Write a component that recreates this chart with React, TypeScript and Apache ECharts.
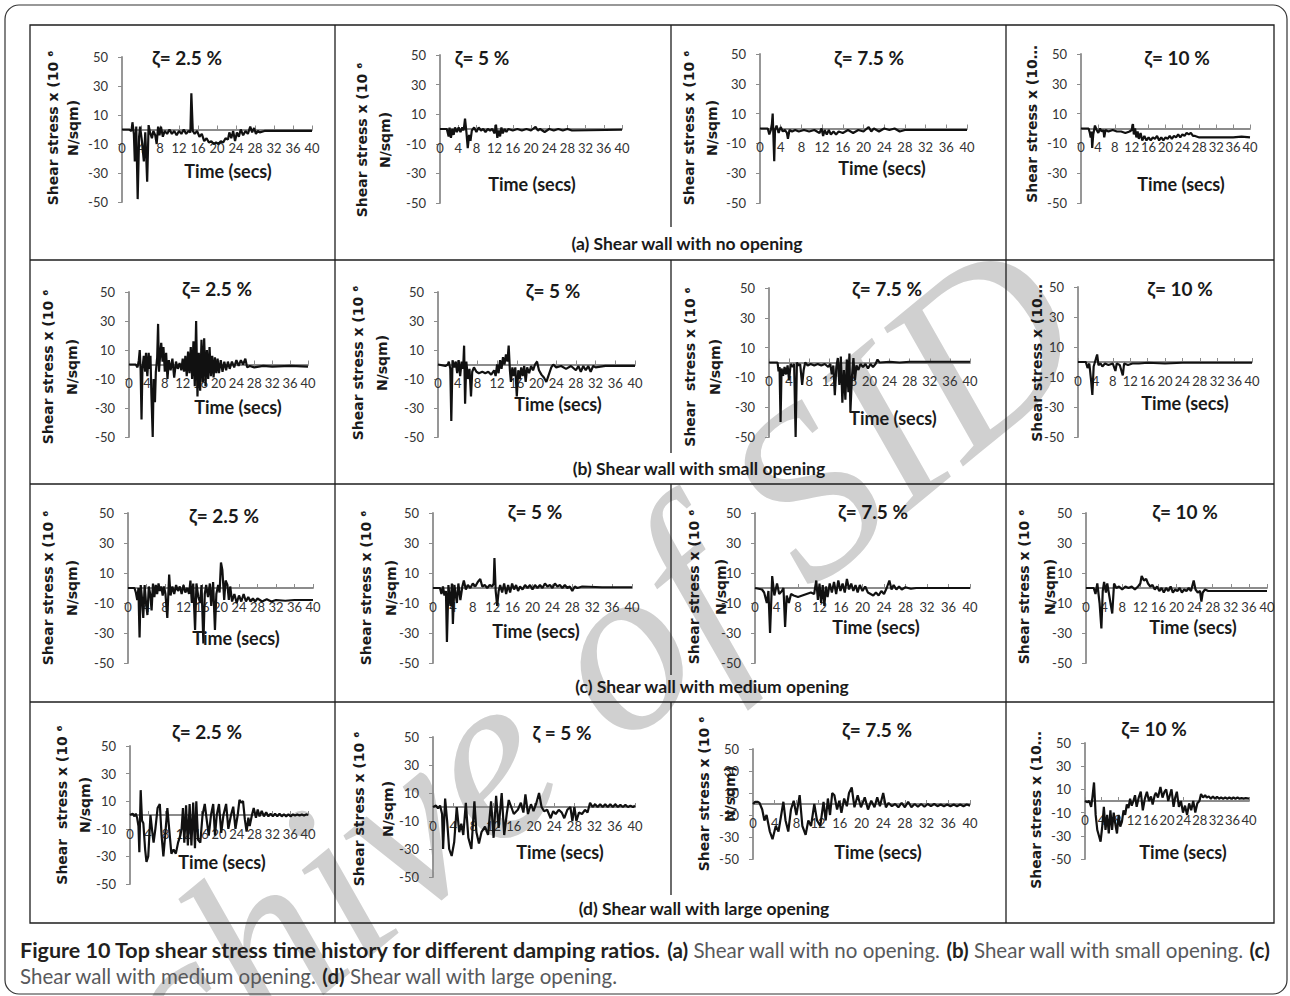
import React, { useEffect, useRef } from "react";
import * as echarts from "echarts";

type Pt = [number, number];

// axis ranges / ticks
const TIME_MIN = 0;
const TIME_MAX = 40;
const TIME_STEP = 4;
const STRESS_MIN = -50;
const STRESS_MAX = 50;
const STRESS_STEP = 20;

const rowCaptions = [
  "(a) Shear wall with no opening",
  "(b) Shear wall with small opening",
  "(c) Shear wall with medium opening",
  "(d) Shear wall with large opening",
];

const panelTitles = [
  "ζ= 2.5 %", "ζ= 5 %", "ζ= 7.5 %", "ζ= 10 %",
  "ζ= 2.5 %", "ζ= 5 %", "ζ= 7.5 %", "ζ= 10 %",
  "ζ= 2.5 %", "ζ= 5 %", "ζ= 7.5 %", "ζ= 10 %",
  "ζ= 2.5 %", "ζ = 5 %", "ζ= 7.5 %", "ζ= 10 %",
];

const Y_FULL = ["Shear stress x (10 ⁶", "N/sqm)"];
const Y_FULL2 = ["Shear  stress x (10 ⁶", "N/sqm)"];
const Y_CUT = ["Shear stress x (10…"];
const yNames = [
  Y_FULL, Y_FULL, Y_FULL, Y_CUT,
  Y_FULL, Y_FULL, Y_FULL2, Y_CUT,
  Y_FULL, Y_FULL, Y_FULL, Y_FULL,
  Y_FULL2, Y_FULL, Y_FULL, Y_CUT,
];
const X_NAME = "Time (secs)";

// ---- series: [time (s), shear stress] ----
const noOpen25: Pt[] = [[0,0],[1.5,0],[2,-1],[2.2,5],[2.5,-3],[2.7,-22],[3.0,2],[3.3,-48],[3.6,-5],[3.8,2],[4.2,-8],[4.6,-22],[4.9,-2],[5.3,-36],[5.6,3],[5.9,-2],[6.3,-6],[6.6,-1],[7.0,-4],[7.3,-10],[7.6,2],[7.9,-4],[8.2,2],[8.6,-5],[9.0,-1],[9.5,-3],[10,0],[10.5,-3],[11,-1],[11.5,-4],[12,-1],[12.5,-3],[13,0],[13.5,-3],[14,-1],[14.4,-2],[14.6,25],[14.9,-1],[15.3,-3],[15.8,-1],[16.3,-5],[16.8,-3],[17.3,-8],[17.8,-6],[18.3,-9],[18.8,-8],[19.3,-10],[19.8,-9],[20.3,-10],[20.8,-8],[21.3,-9],[21.8,-6],[22.3,-7],[22.6,-2],[23,-6],[23.4,-1],[23.8,-8],[24.2,-2],[24.6,-5],[25,0],[25.5,-4],[26,-1],[26.5,-3],[27,2],[27.4,-2],[27.8,1],[28.2,-3],[28.6,-1],[29,-2],[30,-1],[34,-1],[40,-1]];
const noOpen5: Pt[] = [[0,0],[1.5,0],[1.9,-5],[2.1,1],[2.4,-6],[2.7,0],[3.0,-4],[3.3,1],[3.7,-2],[4.1,1],[4.5,-2],[4.9,1],[5.2,-1],[5.5,7],[5.8,-2],[6.1,-13],[6.4,-4],[6.7,-8],[7.0,-1],[7.5,1],[8,-2],[8.5,1],[9,-1],[9.5,0],[10,-2],[10.5,0],[11,-1],[11.5,0],[12,-3],[12.3,3],[12.6,-6],[12.9,-1],[13.2,-5],[13.5,1],[13.8,-3],[14.2,0],[14.6,-2],[15,0],[16,-1],[17,0],[18,-1],[19,0],[20,-1],[21,1.5],[21.5,-1],[22,0],[23,-2],[24,0],[25,-1],[26,0],[27,-1],[28,0],[29,-1],[40,-0.5]];
const noOpen75: Pt[] = [[0,0],[1.5,0],[1.8,-4],[2.1,-1],[2.3,3],[2.45,10],[2.6,-6],[2.75,-22],[2.9,-1],[3.2,2],[3.6,-3],[4.0,1],[4.4,-2],[4.8,-1],[5.2,-3],[5.4,-7],[5.7,-1],[6.2,-2],[6.8,-1],[7.5,-2],[8.5,-1],[9.5,-2],[10.5,-1],[11.5,-3],[11.9,0],[12.2,-5],[12.5,-1],[12.9,-4],[13.3,-1],[13.7,-4],[14.2,-2],[14.7,-4],[15.2,-2],[16,-3],[17,-1],[18,-3],[19,-1],[20,-2],[21,1],[21.5,-2],[22,0],[23,-2],[24,0],[25,-1],[26,0],[27,-2],[28,-1],[30,-1],[40,-1]];
const noOpen10: Pt[] = [[0,0],[1.8,0],[2.1,-3],[2.3,-6],[2.5,-2],[2.65,-13],[2.9,-4],[3.3,2],[3.7,-1],[4.1,-3],[4.5,0],[4.9,-2],[5.3,-1],[5.5,-6],[5.8,-1],[6.5,-2],[7.5,-1],[8.5,-2],[9.5,-2],[10.5,-3],[11.5,-2],[12.0,-1],[12.3,3],[12.5,-4],[12.8,0],[13.1,-6],[13.4,-2],[13.7,-7],[14.1,-3],[14.5,-8],[15,-5],[15.5,-8],[16,-6],[16.5,-8],[17,-6],[17.5,-7],[18,-5],[18.5,-8],[19,-6],[19.5,-8],[20,-6],[20.5,-7],[21,-5],[21.5,-7],[22,-5],[22.5,-6],[23,-4],[23.5,-6],[24,-4],[24.5,-5],[25,-3],[25.5,-4],[26,-3],[26.5,-5],[27,-5],[28,-6],[30,-6],[33,-6],[36,-6],[38,-5.5],[40,-6]];

const small25: Pt[] = [[0,0],[1.5,0],[1.9,-2],[2.2,3],[2.4,10],[2.6,-4],[2.8,-38],[3.0,-3],[3.3,6],[3.6,-5],[3.8,8],[4.1,-8],[4.4,8],[4.6,-3],[4.8,6],[5.0,-20],[5.3,-50],[5.5,-10],[5.8,-26],[6.0,-5],[6.3,5],[6.5,28],[6.7,-5],[7.0,8],[7.2,15],[7.5,2],[7.7,12],[8.0,-5],[8.3,8],[8.6,-10],[8.9,3],[9.3,-4],[9.7,4],[10.1,-9],[10.5,2],[10.9,-3],[11.3,1],[11.7,-4],[12.0,4],[12.3,-5],[12.6,6],[12.9,-8],[13.2,9],[13.5,-6],[13.8,12],[14.1,-10],[14.4,16],[14.7,-15],[15.0,30],[15.3,-22],[15.6,8],[15.9,-18],[16.2,17],[16.5,-12],[16.8,18],[17.1,-15],[17.4,10],[17.7,-10],[18.0,12],[18.3,-8],[18.6,6],[18.9,-9],[19.2,5],[19.5,-6],[19.8,4],[20.1,-6],[20.5,3],[20.9,-5],[21.3,2],[21.7,-4],[22.1,2],[22.5,-3],[23.0,2],[23.5,-2],[24.0,3],[24.5,-1],[25.0,3],[25.5,0],[26.0,4],[26.4,-2],[27,-1],[28,-2],[30,-1],[32,-1.5],[36,-1],[40,-1.5]];
const small5: Pt[] = [[0,0],[1.5,-1],[2.0,0],[2.2,2],[2.5,-3],[2.7,-39],[2.95,3],[3.3,-2],[3.6,2],[3.9,-6],[4.2,3],[4.5,-8],[4.8,2],[5.1,-3],[5.3,13],[5.5,-27],[5.75,2],[6.1,-10],[6.4,-3],[6.7,-22],[6.95,-5],[7.3,-2],[7.8,-5],[8.3,-6],[9,-5],[9.6,-6],[10.2,-5],[10.8,-7],[11.4,-4],[11.7,-8],[12.0,0],[12.3,-6],[12.6,3],[12.9,-3],[13.2,5],[13.5,0],[13.8,7],[14.1,2],[14.35,13],[14.6,-4],[14.8,-12],[15.1,-2],[15.4,-8],[15.7,-2],[16.0,-22],[16.3,-4],[16.6,-10],[16.9,-2],[17.2,-8],[17.5,-1],[17.8,-12],[18.1,-2],[18.5,-6],[18.9,-1],[19.3,-4],[19.7,0],[20.1,2],[20.5,-4],[21,-7],[21.5,-9],[22,-12],[22.4,-8],[22.7,-5],[23.0,-2],[23.4,0],[24,-2],[25,-1],[26,-3],[27,-1],[28,-4],[28.5,-1],[29,-5],[29.5,-1],[30,-4],[30.5,-1],[31,-5],[31.5,-1],[32,-2],[34,-1],[40,-1]];
const small75: Pt[] = [[0,0],[1.7,0],[1.9,-6],[2.1,-3],[2.3,-40],[2.5,-4],[2.8,-9],[3.1,-3],[3.4,-8],[3.7,-2],[4.0,-12],[4.3,-1],[4.7,-3],[5.0,-1],[5.3,-50],[5.55,0],[5.9,-2],[6.2,-1],[6.6,-15],[6.9,-5],[7.2,0],[7.7,-2],[8.3,-1],[9,-2],[9.7,-1],[10.4,-2],[11.1,-1],[11.8,-3],[12.2,-1],[12.5,-8],[12.8,-2],[13.1,-22],[13.4,-3],[13.7,3],[14.0,-15],[14.3,4],[14.6,-27],[14.9,-5],[15.2,-25],[15.5,2],[15.8,-20],[16.0,6],[16.2,-33],[16.5,-10],[16.8,3],[17.1,-12],[17.4,-2],[17.8,-5],[18.2,-1],[18.7,-3],[19.2,-1],[19.7,-4],[20.2,-1],[20.7,-3],[21.2,-1],[21.6,2],[22,0],[24,0.5],[26,0],[28,0.5],[32,0.5],[40,0.5]];
const small10: Pt[] = [[0,0],[1.8,0],[2.2,-4],[2.6,-1],[3.0,-12],[3.3,-22],[3.6,-3],[4.1,2],[4.4,5],[4.7,-2],[5.2,-1],[5.6,-3],[6.2,-1],[7,-2],[8,-1],[8.6,-6],[8.9,-1],[9.6,-2],[10.3,-9],[10.6,-1],[11.5,-2],[12.5,-1],[14,-1],[16,-0.5],[20,-1],[24,-0.5],[28,-0.5],[40,-0.5]];

const medium25: Pt[] = [[0,0],[1.4,0],[1.7,-3],[2.0,-8],[2.25,0],[2.5,-33],[2.75,2],[3.0,-6],[3.3,-20],[3.6,2],[3.9,-10],[4.2,-18],[4.5,1],[4.8,-4],[5.1,-15],[5.4,3],[5.7,-6],[6.0,2],[6.3,-4],[6.6,3],[6.9,-2],[7.2,1],[7.5,-5],[7.8,1],[8.1,-4],[8.5,-20],[8.9,9],[9.2,-5],[9.6,1],[10.0,-4],[10.4,2],[10.8,-2],[11.2,1],[11.6,-4],[12.0,2],[12.4,-3],[12.8,0],[13.2,-4],[13.5,5],[13.8,-10],[14.1,3],[14.5,-28],[14.8,3],[15.2,-6],[15.6,-10],[15.9,2],[16.3,-37],[16.6,-4],[16.9,2],[17.3,-6],[17.7,3],[18.0,-12],[18.4,4],[18.8,-28],[19.1,-4],[19.5,2],[19.8,-3],[20.1,17],[20.4,12],[20.8,-8],[21.1,5],[21.5,2],[21.8,-8],[22.1,1],[22.5,-9],[23.0,-4],[23.5,-10],[24.0,-5],[24.5,-9],[25.0,-4],[25.5,-9],[26,-6],[26.5,-9],[27,-7],[27.5,-9],[28,-7],[29,-9],[30,-7.5],[31,-9],[32,-8],[34,-8.5],[36,-8],[40,-8]];
const medium5: Pt[] = [[0,0],[1.4,0],[1.7,-4],[2.0,1],[2.3,-5],[2.6,-2],[2.8,-36],[3.1,2],[3.5,-12],[3.8,3],[4.0,-24],[4.3,2],[4.8,-10],[5.1,3],[5.5,-8],[5.9,1],[6.2,5],[6.6,-1],[7.0,2],[7.5,0],[8.0,3],[8.5,1],[9.0,4],[9.5,6],[9.9,1],[10.4,2],[10.9,0],[11.4,2],[11.9,1],[12.2,3],[12.35,20],[12.6,-2],[12.9,-12],[13.2,-2],[13.5,2],[13.9,-3],[14.3,3],[14.7,-4],[15.1,2],[15.5,-3],[15.9,3],[16.3,-1],[16.7,2],[17.1,-2],[17.5,1],[18,-1],[18.5,2],[19,0],[19.5,2],[20,-1],[20.5,2],[21,0],[21.5,2],[22,0],[22.5,3],[23,1],[23.5,2],[24,0],[24.5,3],[25,1],[25.5,2],[26,0],[26.5,2],[27,0],[27.5,1],[28,-2],[28.5,1],[29,0],[30,1],[34,0.5],[40,0.5]];
const medium75: Pt[] = [[0,0],[1.3,-1],[1.7,-3],[2.2,-10],[2.5,-2],[2.8,-30],[3.2,8],[3.6,-5],[4.1,3],[4.5,-4],[5.0,-2],[5.3,0],[5.6,-26],[5.9,-5],[6.3,-10],[6.7,-4],[7.2,-5],[8,-6],[8.8,-5],[9.6,-4],[10.4,-3],[11.0,-4],[11.4,5],[11.7,-8],[12.0,3],[12.3,-10],[12.6,2],[12.9,-12],[13.2,1],[13.5,-6],[13.9,3],[14.3,-3],[14.7,4],[15.1,-4],[15.5,5],[15.9,-2],[16.3,3],[16.7,-3],[17.1,6],[17.5,-1],[17.9,3],[18.3,-2],[18.7,2],[19.1,-3],[19.5,2],[20,-2],[20.5,1],[21,-3],[21.5,-4],[22,-5],[22.5,-3],[23,-5],[23.5,-2],[24,-4],[24.5,0],[25,5],[25.4,-1],[25.8,2],[26.3,-1],[26.8,1],[27.3,-1],[28,0.5],[29,-0.5],[30,0],[40,0]];
const medium10: Pt[] = [[0,0],[1.7,0],[2.1,-4],[2.5,3],[3.0,-10],[3.4,-27],[3.7,-2],[4.0,4],[4.4,-3],[4.7,3],[5.3,-8],[5.8,-17],[6.2,3],[6.7,0],[7.3,1],[8,-1],[8.7,1],[9.4,0],[10.1,1],[10.8,-1],[11.5,1],[12.0,3],[12.3,8],[12.8,5],[13.3,6],[13.7,3],[14.2,1],[14.7,2],[15.2,-1],[15.7,1],[16.2,-2],[16.7,0],[17.2,-3],[17.7,0],[18.2,-2],[18.7,1],[19.2,-3],[19.7,-1],[20.2,-2],[20.7,0],[21.2,-3],[21.7,-1],[22.2,-2],[22.7,0],[23.2,-2],[23.8,5],[24.2,-1],[24.7,-3],[25.2,-2],[25.5,-9],[25.8,-3],[26.3,-1],[27,-2],[28,-2],[30,-2],[40,-2]];

const large25: Pt[] = [[0,0],[0.6,1],[1.0,-1],[1.3,1],[1.6,-2],[1.9,-8],[2.1,-27],[2.4,18],[2.7,-4],[3.0,-6],[3.4,-25],[3.7,-34],[4.1,-30],[4.6,0],[5.0,-12],[5.3,-20],[5.7,-10],[6.2,5],[6.7,8],[7.1,-15],[7.5,-30],[7.9,-15],[8.4,5],[8.8,-10],[9.3,-28],[9.8,-25],[10.3,-28],[10.8,-20],[11.3,-15],[11.6,-10],[11.9,5],[12.2,-20],[12.6,7],[13.0,-22],[13.4,8],[13.8,-22],[14.2,9],[14.6,-24],[14.9,10],[15.3,-18],[15.8,-20],[16.3,0],[16.8,8],[17.3,-5],[17.7,-15],[18.2,0],[18.7,8],[19.1,-15],[19.5,0],[20.0,8],[20.5,-13],[21.0,0],[21.6,8],[22.1,-10],[22.7,0],[23.2,6],[23.7,-10],[24.2,0],[24.6,11],[25.0,9],[25.4,10],[25.8,-3],[26.2,-12],[26.6,-2],[26.9,-8],[27.4,0],[27.8,5],[28.3,-2],[28.7,4],[29.1,-1],[29.6,3],[30.1,-1],[30.6,2],[31.1,-1],[31.6,1],[32.1,-1],[32.6,1],[33.1,-1],[33.6,1],[34.1,-1],[34.6,0.5],[35.1,-1],[35.6,0.5],[36.1,-1],[36.6,0.5],[37.1,-0.5],[37.6,0.5],[38.1,-0.5],[38.6,0.5],[39.1,-0.5],[39.6,0.5],[40,0]];
const large5: Pt[] = [[0,0],[0.6,1],[1.0,-1],[1.4,1],[1.8,-5],[2.0,-30],[2.4,6],[2.8,-10],[3.2,-30],[3.7,-35],[4.2,-25],[4.7,0],[5.2,-18],[5.6,-12],[6.0,-20],[6.5,3],[7.0,-22],[7.6,-30],[8.2,4],[8.6,-18],[9.1,-26],[9.6,-18],[10.3,-14],[10.9,-20],[11.5,4],[12.0,-22],[12.5,8],[13.0,-15],[13.6,10],[14.1,-20],[14.6,-5],[15.0,5],[15.5,0],[16.0,-5],[16.8,-2],[17.4,3],[17.9,-4],[18.3,9],[18.8,-5],[19.4,2],[19.9,-3],[20.4,2],[21.0,10],[21.5,0],[22.0,-3],[22.6,-2],[23.3,-8],[23.8,-3],[24.3,-5],[24.9,-2],[25.5,-4],[26.0,-8],[26.6,-2],[27.2,0],[27.6,-10],[28.0,0],[28.4,-10],[28.9,-4],[29.5,-5],[30.1,-2],[30.6,-4],[31.1,3],[31.6,0],[32.1,2],[32.6,0],[33.1,2],[33.6,0],[34.1,2],[34.6,0],[35.1,2],[35.6,0],[36.1,2],[36.6,0],[37.1,1.5],[37.6,0],[38.1,1.5],[38.6,0],[39.1,1],[39.6,0],[40,1]];
const large75: Pt[] = [[0,0],[0.4,2],[0.9,2],[1.2,1],[1.7,-5],[2.1,-15],[2.5,-10],[3.1,-25],[3.6,-32],[4.2,-20],[4.7,-25],[5.2,-10],[5.6,2],[6.0,-15],[6.5,-25],[7.0,-5],[7.5,3],[8.0,-10],[8.6,8],[9.1,-20],[9.7,-28],[10.2,-15],[10.7,-20],[11.3,0],[11.8,-15],[12.4,-20],[13.0,2],[13.4,-15],[13.8,5],[14.2,-10],[14.6,10],[15.0,8],[15.5,-5],[15.9,3],[16.3,-8],[16.8,5],[17.3,-2],[17.7,10],[18.2,15],[18.7,-3],[19.3,8],[19.9,-3],[20.6,6],[21.2,-5],[21.8,3],[22.4,-3],[22.9,6],[23.4,-2],[24.0,10],[24.5,-3],[25.0,1],[25.6,-2],[26.2,0],[26.8,-3],[27.4,1],[28.0,-3],[28.6,2],[29.2,-3],[29.8,0],[30.4,-2.5],[31.0,0],[31.6,-2.5],[32.2,0],[32.8,-2],[33.4,0],[34.0,-2],[34.6,-0.5],[35.2,-2],[35.8,-0.5],[36.4,-2],[37.0,-0.5],[37.6,-2],[38.2,-0.5],[38.8,-2],[39.4,-0.5],[40,-1.5]];
const large10: Pt[] = [[0,0],[0.6,-1],[1.0,0],[1.5,-5],[1.8,3],[2.2,16],[2.6,-12],[3.0,-25],[3.4,-30],[3.8,-35],[4.2,-22],[4.6,-5],[5.0,-25],[5.4,-12],[5.8,-28],[6.2,-8],[6.6,-25],[7.0,-10],[7.4,-20],[7.8,-28],[8.2,-12],[8.6,-22],[9.0,-18],[9.4,-8],[9.8,-12],[10.2,-3],[10.6,-6],[11.0,2],[11.4,-4],[11.8,0],[12.2,5],[12.6,-5],[13.1,3],[13.6,8],[14.1,-8],[14.6,2],[15.1,8],[15.6,0],[16.1,4],[16.5,-3],[17.0,5],[17.3,7],[17.8,3],[18.4,12],[18.9,3],[19.4,8],[19.8,10],[20.3,0],[20.7,5],[21.1,10],[21.6,-5],[22.0,3],[22.4,8],[22.9,-5],[23.4,0],[23.9,-10],[24.4,-4],[24.9,-12],[25.4,-2],[25.9,-8],[26.4,0],[26.9,-10],[27.4,-2],[27.9,0],[28.3,6],[28.8,3],[29.3,5],[29.7,3],[30.2,4],[30.7,2],[31.2,4],[31.7,2],[32.2,3.5],[32.7,2],[33.2,3],[33.7,2],[34.2,3],[34.7,2],[35.2,3],[35.7,2],[36.2,3],[36.7,2],[37.2,3],[37.7,2],[38.2,2.5],[38.7,2],[39.2,2.5],[40,2]];

const seriesData: Pt[][] = [
  noOpen25, noOpen5, noOpen75, noOpen10,
  small25, small5, small75, small10,
  medium25, medium5, medium75, medium10,
  large25, large5, large75, large10,
];

// ---- layout (page pixels) ----
const layout = [
  { ax: 122, top: 57, bottom: 202, right: 312, tx: 187, ty: 57, nx: 228, ny: 171, yx: [53, 73], yc: 128 },
  { ax: 440, top: 55, bottom: 203, right: 622, tx: 482, ty: 57, nx: 532, ny: 184, yx: [362, 385], yc: 140 },
  { ax: 760, top: 54, bottom: 203, right: 967, tx: 869, ty: 57, nx: 882, ny: 168, yx: [689, 712], yc: 128 },
  { ax: 1081, top: 54, bottom: 203, right: 1250, tx: 1177, ty: 57, nx: 1181, ny: 184, yx: [1032], yc: 124 },
  { ax: 129, top: 292, bottom: 437, right: 308, tx: 217, ty: 288, nx: 238, ny: 407, yx: [48, 72], yc: 367 },
  { ax: 438, top: 292, bottom: 437, right: 635, tx: 553, ty: 290, nx: 558, ny: 404, yx: [358, 382], yc: 363 },
  { ax: 769, top: 288, bottom: 437, right: 970, tx: 887, ty: 288, nx: 893, ny: 418, yx: [690, 715], yc: 367 },
  { ax: 1078, top: 287, bottom: 437, right: 1252, tx: 1180, ty: 288, nx: 1185, ny: 403, yx: [1037], yc: 363 },
  { ax: 128, top: 513, bottom: 663, right: 313, tx: 224, ty: 515, nx: 236, ny: 638, yx: [48, 72], yc: 588 },
  { ax: 433, top: 513, bottom: 663, right: 632, tx: 535, ty: 511, nx: 536, ny: 631, yx: [366, 391], yc: 588 },
  { ax: 755, top: 513, bottom: 663, right: 970, tx: 873, ty: 511, nx: 876, ny: 627, yx: [694, 721], yc: 587 },
  { ax: 1086, top: 513, bottom: 663, right: 1267, tx: 1185, ty: 511, nx: 1193, ny: 627, yx: [1024, 1050], yc: 587 },
  { ax: 130, top: 746, bottom: 884, right: 308, tx: 207, ty: 731, nx: 222, ny: 862, yx: [62, 85], yc: 805 },
  { ax: 433, top: 737, bottom: 877, right: 635, tx: 562, ty: 732, nx: 560, ny: 852, yx: [359, 388], yc: 809 },
  { ax: 753, top: 749, bottom: 859, right: 970, tx: 877, ty: 729, nx: 878, ny: 852, yx: [704, 730], yc: 794 },
  { ax: 1085, top: 743, bottom: 859, right: 1249, tx: 1154, ty: 728, nx: 1183, ny: 852, yx: [1036], yc: 810 },
];

const captionPos = [
  { x: 687, y: 243 },
  { x: 699, y: 468 },
  { x: 712, y: 686 },
  { x: 704, y: 908 },
];

const AXIS_GRAY = "#8c8c8c";
const LABEL_FONT = "Lato, 'Open Sans', sans-serif";

function txt(x: number, y: number, text: string, font: string, extra: any = {}) {
  return {
    type: "text",
    x,
    y,
    z: 10,
    silent: true,
    ...extra,
    style: {
      text,
      font,
      fill: extra.fill || "#1a1a1a",
      align: "center",
      verticalAlign: "middle",
      textAlign: "center",
      textVerticalAlign: "middle",
    },
  };
}

function buildOption() {
  const grid: any[] = [];
  const xAxis: any[] = [];
  const yAxis: any[] = [];
  const series: any[] = [];
  const graphic: any[] = [];

  // watermark
  graphic.push({
    type: "text",
    x: 1047,
    y: 292,
    rotation: 0.69,
    z: -1,
    silent: true,
    style: {
      text: "Archive of SID",
      font: "italic 240px 'Liberation Serif', serif",
      fill: "#d0d0d0",
      align: "right",
      verticalAlign: "middle",
      textAlign: "right",
      textVerticalAlign: "middle",
    },
  });

  // outer frame
  graphic.push({
    type: "rect",
    z: 5,
    silent: true,
    shape: { x: 5, y: 5, width: 1282, height: 989, r: 14 },
    style: { fill: "none", stroke: "#333", lineWidth: 1.2 },
  });
  // table
  const lineStyle = { stroke: "#1e1e1e", lineWidth: 1.3 };
  graphic.push({
    type: "rect",
    z: 5,
    silent: true,
    shape: { x: 30, y: 25, width: 1244, height: 898 },
    style: { fill: "none", ...lineStyle },
  });
  [260, 484, 702].forEach((y) =>
    graphic.push({ type: "line", z: 5, silent: true, shape: { x1: 30, y1: y, x2: 1274, y2: y }, style: lineStyle })
  );
  [335, 1006].forEach((x) =>
    graphic.push({ type: "line", z: 5, silent: true, shape: { x1: x, y1: 25, x2: x, y2: 923 }, style: lineStyle })
  );
  [
    [25, 227],
    [260, 453],
    [484, 675],
    [702, 895],
  ].forEach(([a, b]) =>
    graphic.push({ type: "line", z: 5, silent: true, shape: { x1: 671, y1: a, x2: 671, y2: b }, style: lineStyle })
  );

  rowCaptions.forEach((c, i) =>
    graphic.push(txt(captionPos[i].x, captionPos[i].y, c, `bold 17.5px ${LABEL_FONT}`))
  );

  // figure caption
  const rich = {
    h: { fontFamily: LABEL_FONT, fontWeight: "bold", fontSize: 21.5, fill: "#231f20" },
    b: { fontFamily: LABEL_FONT, fontWeight: "bold", fontSize: 20.5, fill: "#231f20" },
    n: { fontFamily: LABEL_FONT, fontWeight: "normal", fontSize: 20.5, fill: "#58595b" },
  };
  graphic.push({
    type: "text",
    x: 20,
    y: 950,
    z: 10,
    silent: true,
    style: {
      text:
        "{h|Figure 10 Top shear stress time history for different damping ratios.} {b|(a)} {n|Shear wall with no opening.} {b|(b)} {n|Shear wall with small opening.} {b|(c)}",
      rich,
      align: "left",
      verticalAlign: "middle",
      textAlign: "left",
      textVerticalAlign: "middle",
      fill: "#58595b",
      font: `20.5px ${LABEL_FONT}`,
    },
  });
  graphic.push({
    type: "text",
    x: 20,
    y: 976,
    z: 10,
    silent: true,
    style: {
      text: "{n|Shear wall with medium opening.} {b|(d)} {n|Shear wall with large opening.}",
      rich,
      align: "left",
      verticalAlign: "middle",
      textAlign: "left",
      textVerticalAlign: "middle",
      fill: "#58595b",
      font: `20.5px ${LABEL_FONT}`,
    },
  });

  layout.forEach((L, i) => {
    const h = L.bottom - L.top;
    grid.push({ left: L.ax, top: L.top, width: L.right - L.ax, height: h, containLabel: false });
    xAxis.push({
      type: "value",
      gridIndex: i,
      position: "bottom",
      offset: -h / 2,
      min: TIME_MIN,
      max: TIME_MAX,
      interval: TIME_STEP,
      axisLine: { show: true, onZero: false, lineStyle: { color: AXIS_GRAY, width: 1.8 } },
      axisTick: { show: true, inside: true, length: 4, lineStyle: { color: AXIS_GRAY, width: 1 } },
      axisLabel: { margin: 12, fontSize: 13, fontFamily: LABEL_FONT, color: "#333" },
      splitLine: { show: false },
    });
    yAxis.push({
      type: "value",
      gridIndex: i,
      min: STRESS_MIN,
      max: STRESS_MAX,
      interval: STRESS_STEP,
      axisLine: { show: true, onZero: false, lineStyle: { color: AXIS_GRAY, width: 1.8 } },
      axisTick: { show: true, inside: false, length: 4, lineStyle: { color: AXIS_GRAY, width: 1 } },
      axisLabel: { margin: 14, fontSize: 13, fontFamily: LABEL_FONT, color: "#333" },
      splitLine: { show: false },
    });
    series.push({
      type: "line",
      xAxisIndex: i,
      yAxisIndex: i,
      data: seriesData[i],
      showSymbol: false,
      symbol: "none",
      silent: true,
      z: 3,
      lineStyle: { color: "#111", width: 2.2 },
    });

    graphic.push(txt(L.tx, L.ty, panelTitles[i], `bold 19px ${LABEL_FONT}`));
    graphic.push(txt(L.nx, L.ny, X_NAME, `bold 18px ${LABEL_FONT}`));
    yNames[i].forEach((line, k) => {
      graphic.push(
        txt(L.yx[k], L.yc, line, "bold 14px 'DejaVu Sans', Verdana, sans-serif", { rotation: Math.PI / 2 })
      );
    });
  });

  return {
    animation: false,
    backgroundColor: "#ffffff",
    grid,
    xAxis,
    yAxis,
    series,
    graphic: { elements: graphic },
  };
}

export default function App() {
  const ref = useRef<HTMLDivElement>(null);
  useEffect(() => {
    if (!ref.current) return;
    const chart = echarts.init(ref.current, undefined, { renderer: "svg" });
    chart.setOption(buildOption() as any);
    return () => chart.dispose();
  }, []);
  return (
    <div
      ref={ref}
      style={{ position: "fixed", left: 0, top: 0, width: 1290, height: 996, background: "#fff" }}
    />
  );
}
